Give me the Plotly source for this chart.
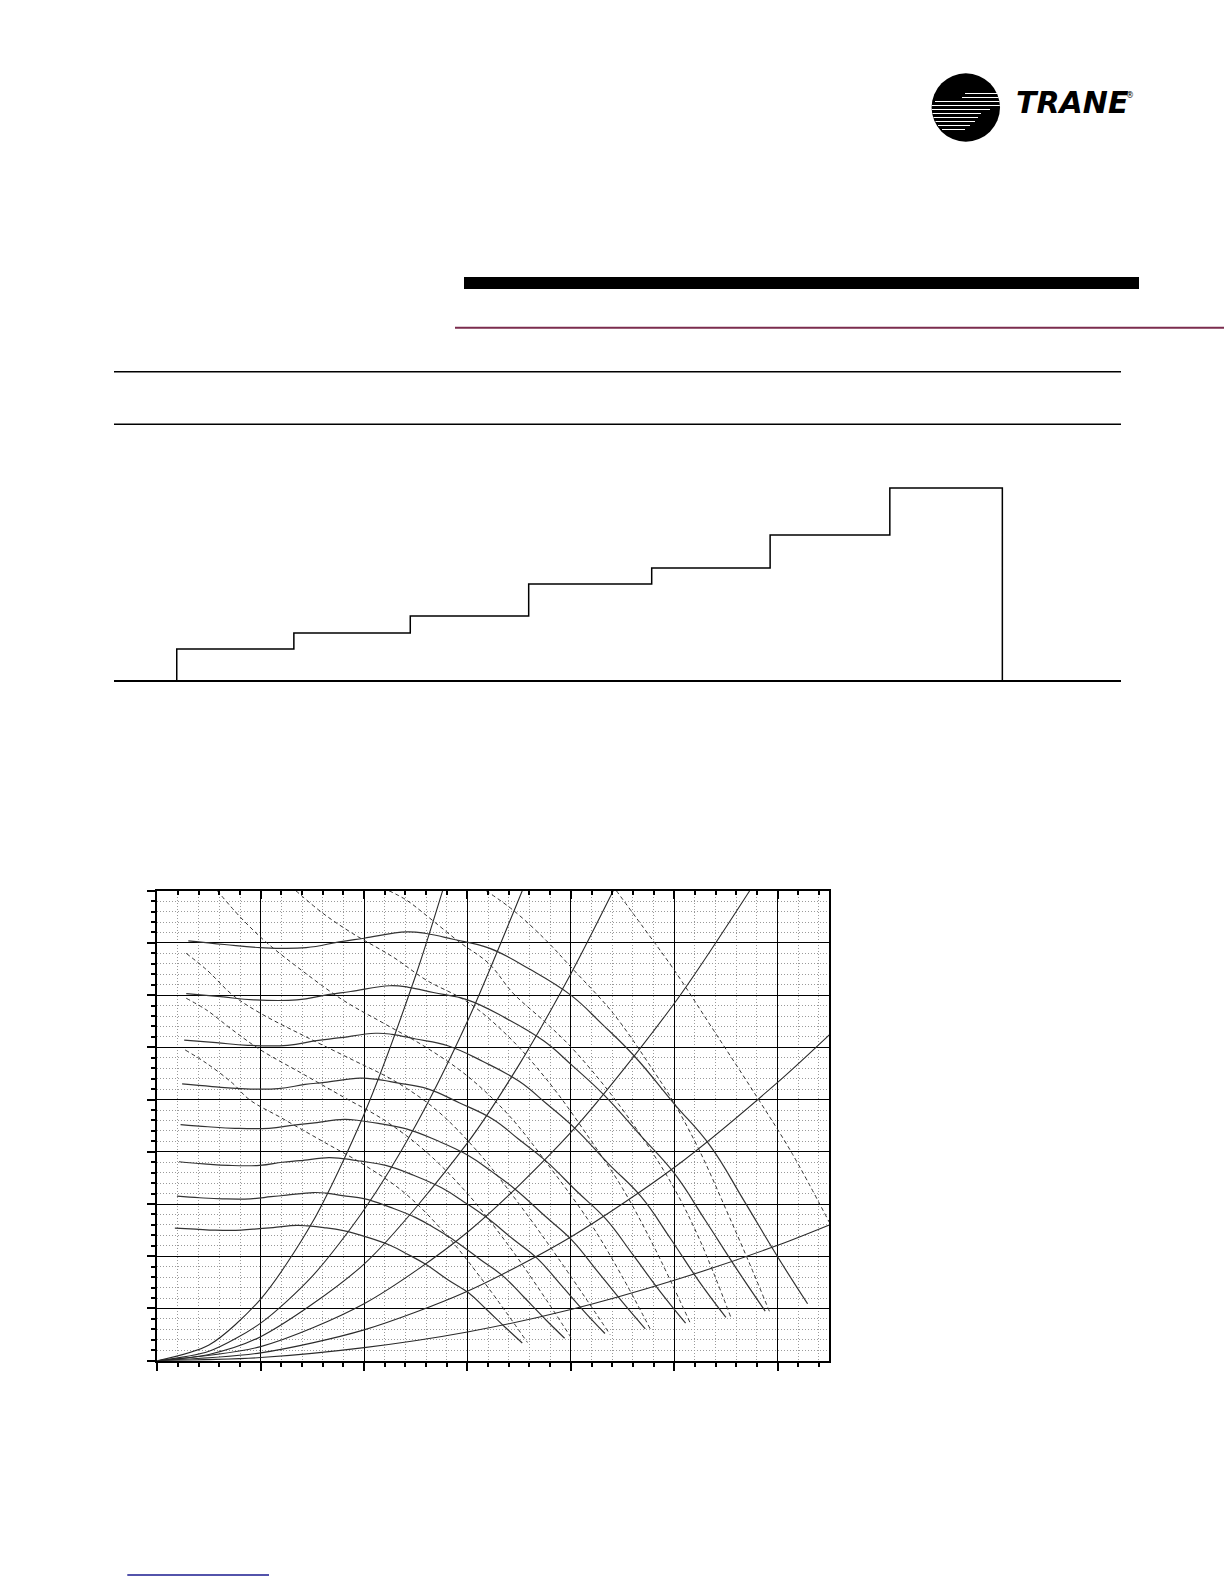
import plotly.graph_objects as go

W, H = 1224, 1584

# ---------------- step chart data ----------------
step_edges = [0.0, 0.993, 1.98, 2.984, 4.027, 5.031, 6.046, 7.0]
step_values = [31, 47, 64, 96, 112, 145, 192]

# ---------------- fan chart data (grid units) ----------------
# system (resistance) curves from origin
sysA_x = [0, 0.5, 1.0, 1.5, 2.0, 2.5, 2.76]
sysA_y = [0, 0.30, 1.18, 2.65, 4.72, 7.38, 9.0]
sysB_x = [0, 0.5, 1.0, 1.5, 2.0, 2.5, 3.0, 3.53]
sysB_y = [0, 0.18, 0.72, 1.62, 2.89, 4.51, 6.5, 9.0]
sysC_x = [0, 0.5, 1.0, 2.0, 3.0, 3.5, 4.0, 4.41]
sysC_y = [0, 0.12, 0.46, 1.85, 4.17, 5.67, 7.41, 9.0]
sysD_x = [0, 1.0, 2.0, 3.0, 4.0, 5.0, 5.73]
sysD_y = [0, 0.27, 1.09, 2.46, 4.37, 6.84, 9.0]
sysE_x = [0, 1.0, 2.0, 3.0, 4.0, 5.0, 6.0, 6.5]
sysE_y = [0, 0.15, 0.59, 1.33, 2.37, 3.70, 5.33, 6.24]
sysF_x = [0, 1.0, 2.0, 3.0, 4.0, 5.0, 6.0, 6.5]
sysF_y = [0, 0.06, 0.25, 0.55, 0.98, 1.54, 2.21, 2.6]

# fan speed curves (solid)
fan1_x = [0.30, 0.65, 1.0, 1.44, 1.76, 2.0, 2.41, 2.6, 2.86, 3.21, 3.6, 4.0, 4.3, 4.62, 5.0, 5.35, 5.67, 6.0, 6.29]
fan1_y = [8.04, 7.97, 7.91, 7.91, 8.02, 8.09, 8.21, 8.18, 8.07, 7.9, 7.5, 7.0, 6.45, 5.82, 4.92, 4.11, 3.08, 1.99, 1.09]
fan2_x = [0.28, 0.61, 0.935, 1.35, 1.65, 1.87, 2.25, 2.43, 2.67, 3.0, 3.37, 3.74, 4.02, 4.32, 4.68, 5.0, 5.3, 5.61, 5.88]
fan2_y = [7.03, 6.97, 6.91, 6.91, 7.01, 7.07, 7.18, 7.15, 7.05, 6.91, 6.56, 6.12, 5.64, 5.09, 4.30, 3.59, 2.69, 1.74, 0.95]
fan3_x = [0.26, 0.57, 0.874, 1.26, 1.54, 1.75, 2.11, 2.27, 2.5, 2.81, 3.15, 3.50, 3.76, 4.04, 4.37, 4.68, 4.96, 5.24, 5.50]
fan3_y = [6.14, 6.09, 6.04, 6.04, 6.13, 6.18, 6.27, 6.25, 6.16, 6.03, 5.73, 5.35, 4.93, 4.45, 3.76, 3.14, 2.35, 1.52, 0.83]
fan4_x = [0.24, 0.53, 0.81, 1.17, 1.43, 1.62, 1.96, 2.11, 2.32, 2.61, 2.92, 3.25, 3.49, 3.75, 4.06, 4.34, 4.60, 4.87, 5.11]
fan4_y = [5.30, 5.25, 5.21, 5.21, 5.29, 5.33, 5.41, 5.39, 5.32, 5.21, 4.94, 4.62, 4.25, 3.84, 3.24, 2.71, 2.03, 1.31, 0.72]
fan5_x = [0.225, 0.49, 0.75, 1.08, 1.32, 1.5, 1.81, 1.95, 2.15, 2.41, 2.7, 3.0, 3.23, 3.47, 3.75, 4.01, 4.25, 4.5, 4.72]
fan5_y = [4.52, 4.48, 4.45, 4.45, 4.51, 4.55, 4.62, 4.60, 4.54, 4.44, 4.22, 3.94, 3.63, 3.27, 2.77, 2.31, 1.73, 1.12, 0.61]
fan6_x = [0.21, 0.45, 0.69, 0.99, 1.21, 1.38, 1.66, 1.79, 1.97, 2.21, 2.48, 2.75, 2.96, 3.18, 3.44, 3.68, 3.90, 4.13, 4.33]
fan6_y = [3.81, 3.77, 3.74, 3.74, 3.80, 3.83, 3.89, 3.87, 3.82, 3.74, 3.55, 3.31, 3.05, 2.75, 2.33, 1.95, 1.46, 0.94, 0.52]
fan7_x = [0.19, 0.41, 0.63, 0.90, 1.10, 1.25, 1.51, 1.63, 1.79, 2.01, 2.25, 2.50, 2.69, 2.89, 3.13, 3.35, 3.55, 3.76, 3.94]
fan7_y = [3.15, 3.12, 3.10, 3.10, 3.14, 3.17, 3.22, 3.21, 3.16, 3.10, 2.94, 2.74, 2.53, 2.28, 1.93, 1.61, 1.21, 0.78, 0.43]
fan8_x = [0.17, 0.37, 0.56, 0.81, 0.99, 1.12, 1.35, 1.46, 1.61, 1.80, 2.02, 2.25, 2.42, 2.60, 2.81, 3.01, 3.19, 3.37, 3.53]
fan8_y = [2.54, 2.52, 2.50, 2.50, 2.53, 2.55, 2.59, 2.58, 2.55, 2.49, 2.37, 2.21, 2.04, 1.84, 1.55, 1.30, 0.97, 0.63, 0.34]

# brake horsepower lines (dashed)
bhp1_x = [0.27, 0.48, 0.73, 0.89, 1.2, 1.6, 2.0, 2.4, 2.8, 3.2, 3.58]
bhp1_y = [5.95, 5.69, 5.31, 5.0, 4.65, 4.2, 3.75, 3.2, 2.4, 1.4, 0.35]
bhp2_x = [0.28, 0.48, 0.73, 1.0, 1.4, 1.8, 2.2, 2.6, 3.0, 3.4, 3.7, 4.0]
bhp2_y = [6.94, 6.71, 6.33, 5.95, 5.5, 5.05, 4.6, 4.0, 3.2, 2.2, 1.35, 0.45]
bhp3_x = [0.28, 0.48, 0.73, 1.0, 1.44, 1.9, 2.3, 2.7, 3.1, 3.5, 3.9, 4.38]
bhp3_y = [7.8, 7.48, 7.0, 6.65, 6.2, 5.75, 5.35, 4.8, 4.0, 3.0, 1.9, 0.5]
bhp4_x = [0.58, 0.8, 1.05, 1.38, 1.8, 2.2, 2.6, 3.0, 3.4, 3.8, 4.2, 4.5, 4.77]
bhp4_y = [9.0, 8.5, 8.02, 7.5, 6.9, 6.45, 6.0, 5.45, 4.7, 3.7, 2.6, 1.6, 0.6]
bhp5_x = [1.34, 1.6, 1.89, 2.28, 2.6, 3.0, 3.4, 3.8, 4.2, 4.5, 4.8, 5.16]
bhp5_y = [9.0, 8.57, 8.18, 7.73, 7.29, 6.87, 6.2, 5.3, 4.2, 3.3, 2.2, 0.7]
bhp6_x = [2.24, 2.41, 2.6, 2.92, 3.21, 3.44, 3.76, 4.0, 4.35, 4.7, 5.0, 5.25, 5.55]
bhp6_y = [9.0, 8.82, 8.53, 8.02, 7.6, 7.04, 6.47, 6.01, 5.2, 4.25, 3.3, 2.3, 0.82]
bhp7_x = [3.18, 3.44, 3.76, 4.0, 4.41, 4.8, 5.0, 5.25, 5.5, 5.72, 5.93]
bhp7_y = [9.0, 8.63, 8.05, 7.54, 6.65, 5.55, 4.93, 4.0, 2.9, 1.9, 0.9]
bhp8_x = [4.44, 4.7, 5.0, 5.38, 5.8, 6.14, 6.5]
bhp8_y = [9.0, 8.3, 7.48, 6.33, 5.05, 3.97, 2.65]

X_MAX, Y_MAX = 6.5, 9

fig = go.Figure()

def line(x, y, dash=None, width=1.1, color="#222222", smooth=1.0):
    fig.add_trace(go.Scatter(
        x=x, y=y, mode="lines",
        line=dict(color=color, width=width, dash=dash, shape="spline", smoothing=smooth),
        showlegend=False, hoverinfo="skip"))

for sx, sy in [(sysA_x, sysA_y), (sysB_x, sysB_y), (sysC_x, sysC_y),
               (sysD_x, sysD_y), (sysE_x, sysE_y), (sysF_x, sysF_y)]:
    line(sx, sy, width=1.1, color="#2a2a2a", smooth=0.8)

for fx, fy in [(fan1_x, fan1_y), (fan2_x, fan2_y), (fan3_x, fan3_y), (fan4_x, fan4_y),
               (fan5_x, fan5_y), (fan6_x, fan6_y), (fan7_x, fan7_y), (fan8_x, fan8_y)]:
    line(fx, fy, width=1.2, color="#333333", smooth=1.2)

for bx, by in [(bhp1_x, bhp1_y), (bhp2_x, bhp2_y), (bhp3_x, bhp3_y), (bhp4_x, bhp4_y),
               (bhp5_x, bhp5_y), (bhp6_x, bhp6_y), (bhp7_x, bhp7_y), (bhp8_x, bhp8_y)]:
    line(bx, by, dash="4px,3px", width=1.0, color="#333333", smooth=1.0)

# dummy trace for top tick axis
fig.add_trace(go.Scatter(x=[None], y=[None], xaxis="x2", yaxis="y", mode="lines",
                         showlegend=False, hoverinfo="skip"))

# step chart trace
sx = [step_edges[0], step_edges[0]] + step_edges[1:]
sy = [0] + step_values + [0]
fig.add_trace(go.Scatter(x=sx, y=sy, xaxis="x3", yaxis="y3", mode="lines",
                         line=dict(color="black", width=1.5, shape="hv"),
                         cliponaxis=False, showlegend=False, hoverinfo="skip"))


def px(x):
    return x / W


def py(y):
    return 1 - y / H


minor_grid = dict(dtick=0.2, tick0=0, ticks="outside", ticklen=4, tickwidth=1.5,
                  tickcolor="black", showgrid=True, gridcolor="#9a9a9a",
                  griddash="1px,2px", gridwidth=1)

fig.update_layout(
    width=W, height=H, margin=dict(l=0, r=0, t=0, b=0),
    paper_bgcolor="white", plot_bgcolor="white", showlegend=False,
    xaxis=dict(domain=[px(157.3), px(829.3)], range=[0, X_MAX], dtick=1, tick0=0,
               showgrid=True, gridcolor="black", gridwidth=1.3,
               showline=True, linecolor="black", linewidth=2, mirror=True,
               ticks="outside", ticklen=8, tickwidth=2, tickcolor="black",
               showticklabels=False, zeroline=False, minor=minor_grid, anchor="y"),
    yaxis=dict(domain=[py(1360.7), py(890.7)], range=[0, Y_MAX], dtick=1, tick0=0,
               showgrid=True, gridcolor="black", gridwidth=1.3,
               showline=True, linecolor="black", linewidth=2, mirror=True,
               ticks="outside", ticklen=8, tickwidth=2, tickcolor="black",
               showticklabels=False, zeroline=False, minor=minor_grid, anchor="x"),
    xaxis2=dict(overlaying="x", side="top", range=[0, X_MAX], dtick=1, tick0=0,
                ticks="inside", ticklen=8, tickwidth=2, tickcolor="black",
                minor=dict(dtick=0.2, tick0=0, ticks="inside", ticklen=4, tickwidth=1.5,
                           tickcolor="black", showgrid=False),
                showgrid=False, showline=False, showticklabels=False, zeroline=False,
                anchor="y"),
    xaxis3=dict(domain=[px(114), px(1121)], range=[-0.532, 8.006], anchor="y3",
                showline=True, linecolor="black", linewidth=1.5, showgrid=False,
                zeroline=False, ticks="", showticklabels=False),
    yaxis3=dict(domain=[py(680), py(480)], range=[0, 200], anchor="x3",
                visible=False, showgrid=False, zeroline=False),
)

shapes = []
# black header bar
shapes.append(dict(type="rect", xref="paper", yref="paper", x0=px(464), x1=px(1139),
                   y0=py(289), y1=py(277), fillcolor="black", line=dict(width=0)))
# maroon rule
shapes.append(dict(type="line", xref="paper", yref="paper", x0=px(455), x1=px(1224),
                   y0=py(327.7), y1=py(327.7), line=dict(color="#7B2C4E", width=2)))
# table rules
for yy in (371.7, 424.3):
    shapes.append(dict(type="line", xref="paper", yref="paper", x0=px(114), x1=px(1121),
                       y0=py(yy), y1=py(yy), line=dict(color="black", width=1.4)))
# blue link underline
shapes.append(dict(type="line", xref="paper", yref="paper", x0=px(127.3), x1=px(269),
                   y0=py(1575), y1=py(1575), line=dict(color="#1a1a8f", width=1.3)))
# logo circle
cx, cy, r = 965.8, 107.5, 34.2
shapes.append(dict(type="circle", xref="paper", yref="paper", x0=px(cx - r), x1=px(cx + r),
                   y0=py(cy + r), y1=py(cy - r), fillcolor="black", line=dict(width=0)))
stripes = [(93.5, 965, 997), (97.5, 962, 998.5), (101.5, 935, 999.5), (105.5, 932, 999.8),
           (109.5, 932, 990), (113.5, 932.5, 981), (117.5, 933.5, 978), (121.5, 935.5, 975),
           (125.5, 938, 970), (129.5, 942, 965)]
for yy, x0, x1 in stripes:
    shapes.append(dict(type="line", xref="paper", yref="paper", x0=px(x0), x1=px(x1),
                       y0=py(yy), y1=py(yy), line=dict(color="white", width=1.0)))
fig.update_layout(shapes=shapes)

fig.add_annotation(x=px(1014), y=py(103), xref="paper", yref="paper", text="TRANE",
                   showarrow=False, xanchor="left", yanchor="middle",
                   font=dict(family="DejaVu Sans", size=30, color="black",
                             weight="bold", style="italic"))
fig.add_annotation(x=px(1124), y=py(96), xref="paper", yref="paper", text="®",
                   showarrow=False, xanchor="left", yanchor="middle",
                   font=dict(family="DejaVu Sans", size=8, color="black"))

fig.write_html("out.html", config={"displayModeBar": False},
               post_script="document.body.style.margin='0';document.body.style.overflow='hidden';")
